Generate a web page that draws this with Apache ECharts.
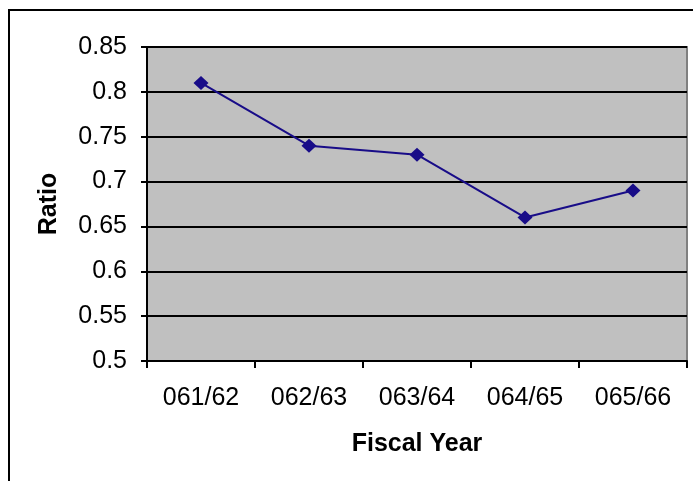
<!DOCTYPE html>
<html>
<head>
<meta charset="utf-8">
<script src="https://cdn.jsdelivr.net/npm/echarts@6/dist/echarts.min.js"></script>
<style>
  html, body { margin: 0; padding: 0; background: #fff; }
  #chart { width: 693px; height: 481px; }
</style>
</head>
<body>
<div id="chart"></div>
<script>
const years = ['061/62', '062/63', '063/64', '064/65', '065/66']
const ratios = [0.81, 0.74, 0.73, 0.66, 0.69]

const chart = echarts.init(document.getElementById('chart'))
const font = 'Liberation Sans, Arial, sans-serif'

chart.setOption({
  animation: false,
  graphic: [{
    type: 'rect',
    shape: { x: 9, y: 10, width: 720, height: 520 },
    style: { fill: 'none', stroke: '#000', lineWidth: 2 },
    z: -1
  }],
  grid: {
    left: 147, right: 6, top: 47, bottom: 120,
    show: true,
    backgroundColor: '#c0c0c0',
    borderColor: '#808080',
    borderWidth: 2
  },
  xAxis: {
    type: 'category',
    data: years,
    boundaryGap: true,
    name: 'Fiscal Year',
    nameLocation: 'middle',
    nameGap: 71,
    nameTextStyle: { fontFamily: font, fontSize: 25, fontWeight: 'bold', color: '#000' },
    axisLine: { lineStyle: { color: '#000', width: 2 } },
    axisTick: { show: true, alignWithLabel: false, length: 7, lineStyle: { color: '#000', width: 2 } },
    axisLabel: { fontFamily: font, fontSize: 25, color: '#000', margin: 25 },
    splitLine: { show: false }
  },
  yAxis: {
    type: 'value',
    min: 0.5,
    max: 0.85,
    interval: 0.05,
    name: 'Ratio',
    nameLocation: 'middle',
    nameGap: 85,
    nameRotate: 90,
    nameTextStyle: { fontFamily: font, fontSize: 25, fontWeight: 'bold', color: '#000' },
    axisLine: { show: true, lineStyle: { color: '#000', width: 2 } },
    axisTick: { show: true, length: 6, lineStyle: { color: '#000', width: 2 } },
    axisLabel: {
      fontFamily: font, fontSize: 25, color: '#000', margin: 20,
      formatter: function (v) { return String(parseFloat(v.toFixed(2))) }
    },
    splitLine: { show: true, lineStyle: { color: '#000', width: 2 } }
  },
  series: [{
    type: 'line',
    data: ratios,
    symbol: 'diamond',
    symbolSize: [15, 14],
    lineStyle: { color: '#180c88', width: 2 },
    itemStyle: { color: '#180c88' }
  }]
})
</script>
</body>
</html>
